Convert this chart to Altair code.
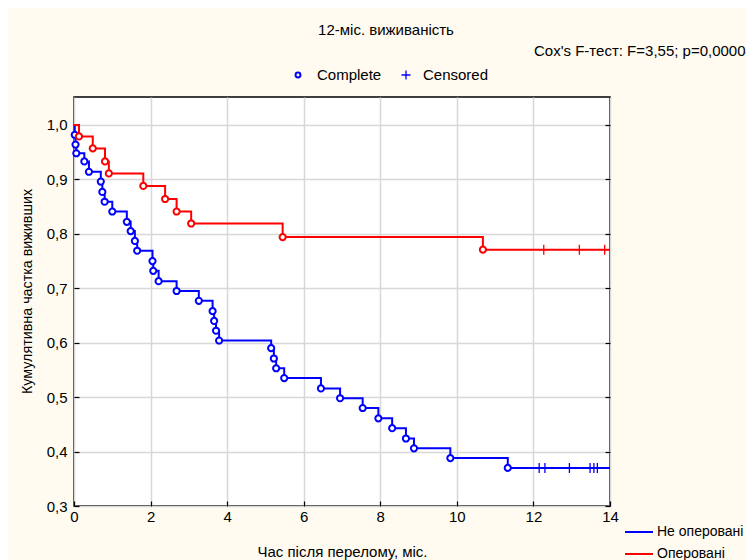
import altair as alt
import pandas as pd

# ---- data ----
blue_name = "Не оперовані"
red_name = "Оперовані"

blue_event_t = [0.02, 0.04, 0.06, 0.27, 0.39, 0.70, 0.74, 0.80, 1.00, 1.38, 1.48, 1.59, 1.65,
                2.05, 2.07, 2.21, 2.68, 3.26, 3.62, 3.66, 3.71, 3.79, 5.15, 5.22, 5.28, 5.49,
                6.45, 6.95, 7.54, 7.95, 8.31, 8.67, 8.88, 9.83, 11.33]
blue_event_s = [0.982, 0.964, 0.948, 0.933, 0.914, 0.896, 0.877, 0.859, 0.841, 0.822, 0.805, 0.787, 0.769,
                0.750, 0.732, 0.713, 0.695, 0.677, 0.658, 0.640, 0.622, 0.604, 0.590, 0.571, 0.553, 0.535,
                0.516, 0.498, 0.480, 0.461, 0.443, 0.424, 0.406, 0.388, 0.370]
blue_cens_t = [12.15, 12.30, 12.94, 13.48, 13.58, 13.67]

red_event_t = [0.13, 0.49, 0.81, 0.91, 1.81, 2.38, 2.68, 3.06, 5.45, 10.68]
red_event_s = [0.979, 0.957, 0.933, 0.911, 0.888, 0.864, 0.841, 0.819, 0.794, 0.771]
red_cens_t = [12.27, 13.20, 13.86]

x_end = 14
title_text = "12-міс. виживаність"
test_text = "Cox's F-тест: F=3,55; p=0,00004"
x_title = "Час після перелому, міс."
y_title = "Кумулятивна частка виживших"
kinds = ["Complete", "Censored"]
x_ticks = [0, 2, 4, 6, 8, 10, 12, 14]
y_ticks = [0.3, 0.4, 0.5, 0.6, 0.7, 0.8, 0.9, 1.0]

BLUE, RED = "#0000ff", "#ff0000"

# ---- tables ----
line_rows, mark_rows = [], []
for name, et, es, ct in [(blue_name, blue_event_t, blue_event_s, blue_cens_t),
                         (red_name, red_event_t, red_event_s, red_cens_t)]:
    line_rows.append({"t": 0.0, "s": 1.0, "g": name})
    for t, s in zip(et, es):
        line_rows.append({"t": t, "s": s, "g": name})
        mark_rows.append({"t": t, "s": s, "g": name, "k": kinds[0]})
    line_rows.append({"t": x_end, "s": es[-1], "g": name})
    for t in ct:
        mark_rows.append({"t": t, "s": es[-1], "g": name, "k": kinds[1]})

lines = pd.DataFrame(line_rows)
marks = pd.DataFrame(mark_rows)

FONT = "Liberation Sans"
FS = 15
plus_path = "M-1,0H1M0,-1V1"
comma = "replace(format(datum.value, '.1f'), '.', ',')"

xscale = alt.Scale(domain=[0, 14], nice=False, zero=False)
yscale = alt.Scale(domain=[0.3, 1.0514], nice=False, zero=False)

color = alt.Color("g:N", scale=alt.Scale(domain=[blue_name, red_name], range=[BLUE, RED]),
                  legend=alt.Legend(title=None, orient="none", legendX=550, legendY=420,
                                    symbolType="stroke", symbolSize=784, symbolStrokeWidth=2,
                                    labelFontSize=14, labelFont=FONT, labelColor="black",
                                    rowPadding=-3, labelOffset=3))
shape = alt.Shape("k:N", scale=alt.Scale(domain=kinds, range=["circle", plus_path]), legend=None)

x_axis = alt.Axis(title=x_title, values=x_ticks, grid=True, gridColor="#d8d8d8",
                  gridWidth=1.5, offset=-5, tickSize=5, tickColor="black", tickWidth=1.2,
                  labelPadding=3, labelFlush=False, domain=False, labelFontSize=FS, labelFont=FONT,
                  labelColor="black", titleFont=FONT, titleFontSize=FS, titleFontWeight="normal",
                  titleColor="black", titlePadding=20)
y_axis = alt.Axis(title=y_title, values=y_ticks,
                  labelExpr=comma, grid=True, gridColor="#d8d8d8", gridWidth=1.5, offset=-5,
                  tickSize=5, tickColor="black", tickWidth=1.2, labelPadding=7, labelFlush=False,
                  domain=False, labelFontSize=FS, labelFont=FONT, labelColor="black",
                  titleFont=FONT, titleFontSize=14.3, titleFontWeight="normal", titleColor="black",
                  titlePadding=12, titleY=194)
y_axis_right = alt.Axis(title=None, orient="right", values=y_ticks, labels=False, grid=False,
                        offset=-5, tickSize=5, tickColor="black", tickWidth=1.2, domain=False)

base_line = alt.Chart(lines).mark_line(interpolate="step-after", strokeWidth=2)
blue_line = base_line.transform_filter(alt.datum.g == blue_name).encode(
    x=alt.X("t:Q", scale=xscale, axis=x_axis),
    y=alt.Y("s:Q", scale=yscale, axis=y_axis),
    color=color)
red_line = base_line.transform_filter(alt.datum.g == red_name).encode(
    x=alt.X("t:Q", scale=xscale, axis=None),
    y=alt.Y("s:Q", scale=yscale, axis=y_axis_right),
    color=color)


def point_layer(name, kind, col, sz, sw, fill):
    return alt.Chart(marks).transform_filter(
        (alt.datum.g == name) & (alt.datum.k == kind)
    ).mark_point(
        filled=False, fill=fill, strokeWidth=sw, opacity=1, stroke=col, size=sz
    ).encode(
        x=alt.X("t:Q", scale=xscale, axis=None),
        y=alt.Y("s:Q", scale=yscale, axis=None),
        shape=shape,
    )


blue_pts = point_layer(blue_name, kinds[0], BLUE, 38, 2, "white")
red_pts = point_layer(red_name, kinds[0], RED, 38, 2, "white")
blue_cens = point_layer(blue_name, kinds[1], BLUE, 100, 1.3, "transparent")
red_cens = point_layer(red_name, kinds[1], RED, 100, 1.3, "transparent")

# ---- annotations: title, test result, symbol key ----
one = pd.DataFrame({"a": [0]})


def note(text, x, y, align):
    return alt.Chart(one).mark_text(text=text, font=FONT, fontSize=FS, align=align,
                                    baseline="middle", color="black").encode(
        x=alt.value(x), y=alt.value(y))


title_mark = note(title_text, 312, -67, "center")
test_mark = note(test_text, 460, -46, "left")
key_lab1 = note(kinds[0], 243, -22, "left")
key_lab2 = note(kinds[1], 349, -22, "left")
key_sym1 = alt.Chart(one).mark_point(shape="circle", filled=False, stroke=BLUE, strokeWidth=2,
                                     size=24, opacity=1).encode(x=alt.value(224), y=alt.value(-22))
key_sym2 = alt.Chart(one).mark_point(shape=plus_path, filled=False, stroke=BLUE, strokeWidth=1.3,
                                     size=81, opacity=1).encode(x=alt.value(332), y=alt.value(-22))

chart = alt.layer(blue_line, red_line, blue_pts, red_pts, blue_cens, red_cens,
                  title_mark, test_mark, key_sym1, key_lab1, key_sym2, key_lab2).resolve_axis(
    y="independent", x="independent"
).properties(
    width=536, height=409,
    autosize=alt.AutoSizeParams(type="none"),
    padding={"left": 66, "top": 89, "right": 136, "bottom": 54},
    background="#fffbf0",
).configure_view(fill="white", stroke="black", strokeWidth=1.5)

chart.save("out.html", embed_options={"renderer": "svg", "actions": False})
